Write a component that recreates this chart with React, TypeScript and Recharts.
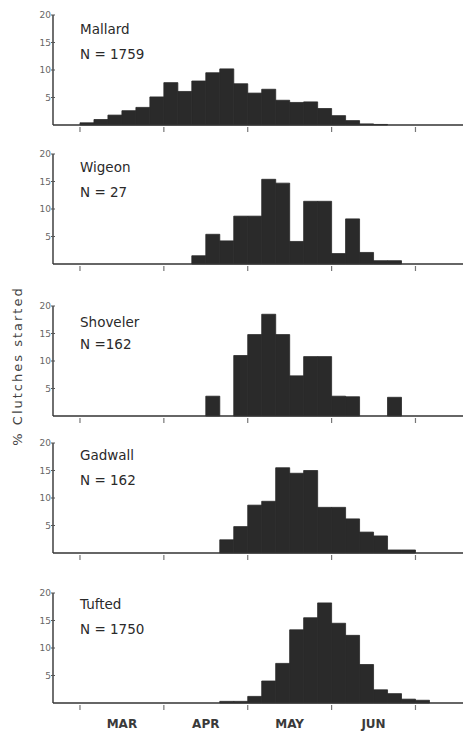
import React from 'react';
import { BarChart, Bar, XAxis, YAxis } from 'recharts';

// 5-day periods (pentads) starting 1 March
const PENTADS = [
  '1 Mar', '6 Mar', '11 Mar', '16 Mar', '21 Mar', '26 Mar',
  '1 Apr', '6 Apr', '11 Apr', '16 Apr', '21 Apr', '26 Apr',
  '1 May', '6 May', '11 May', '16 May', '21 May', '26 May',
  '1 Jun', '6 Jun', '11 Jun', '16 Jun', '21 Jun', '26 Jun',
  '1 Jul', '6 Jul',
];

const SPECIES = ['Mallard', 'Wigeon', 'Shoveler', 'Gadwall', 'Tufted'];
const SAMPLE_SIZES = ['N = 1759', 'N = 27', 'N =162', 'N = 162', 'N = 1750'];

const MALLARD = [0.4, 1.0, 1.8, 2.6, 3.2, 5.1, 7.7, 6.1, 8.0, 9.5, 10.2, 7.5, 5.8, 6.5, 4.5, 4.1, 4.2, 3.0, 1.7, 0.8, 0.2, 0.1, 0, 0, 0, 0];
const WIGEON = [0, 0, 0, 0, 0, 0, 0, 0, 1.5, 5.4, 4.2, 8.7, 8.7, 15.4, 14.7, 4.1, 11.4, 11.4, 1.9, 8.2, 2.1, 0.6, 0.6, 0, 0, 0];
const SHOVELER = [0, 0, 0, 0, 0, 0, 0, 0, 0, 3.6, 0, 11.0, 14.8, 18.5, 14.8, 7.3, 10.8, 10.8, 3.6, 3.5, 0, 0, 3.4, 0, 0, 0];
const GADWALL = [0, 0, 0, 0, 0, 0, 0, 0, 0, 0, 2.4, 4.8, 8.7, 9.4, 15.5, 14.5, 15.0, 8.3, 8.3, 6.2, 3.8, 3.1, 0.55, 0.55, 0, 0];
const TUFTED = [0, 0, 0, 0, 0, 0, 0, 0, 0, 0, 0.3, 0.3, 1.2, 4.0, 7.2, 13.3, 15.5, 18.2, 14.5, 12.3, 7.0, 2.4, 1.7, 0.7, 0.5, 0];

const SERIES = [MALLARD, WIGEON, SHOVELER, GADWALL, TUFTED];

const MONTH_BOUNDARIES = [0, 6, 12, 18, 24];
const MONTH_LABEL_POS = [3, 9, 15, 21];
const MONTH_LABELS = ['MAR', 'APR', 'MAY', 'JUN'];
const Y_TICKS = [5, 10, 15, 20];

const PANEL_TOPS = [5, 144, 296, 433, 583];
const TITLE_OFFSETS = [[19, 44], [18, 43], [21, 43], [17, 42], [16, 41]];

const FONT = '"DejaVu Sans", sans-serif';
const BAR_COLOR = '#2a2a2a';

const YTick = (props: any) => {
  const { x, y, payload } = props;
  return (
    <g>
      <line x1={x - 2} x2={x + 2} y1={y} y2={y} stroke="#555" strokeWidth={1} />
      <text x={x - 2} y={y + 3} textAnchor="end" fontSize={9} fill="#666" fontFamily={FONT}>
        {payload.value}
      </text>
    </g>
  );
};

const makeXTick = (showLabels: boolean) => (props: any) => {
  const { x, y, payload } = props;
  const v = payload.value;
  if (MONTH_BOUNDARIES.includes(v)) {
    return <line x1={x} x2={x} y1={y + 2} y2={y + 7} stroke="#777" strokeWidth={1.2} />;
  }
  if (showLabels) {
    const idx = MONTH_LABEL_POS.indexOf(v);
    return (
      <text x={x} y={y + 25} textAnchor="middle" fontSize={12} fontWeight="bold" fill="#3a3a3a" fontFamily={FONT}>
        {MONTH_LABELS[idx]}
      </text>
    );
  }
  return <g />;
};

const Panel = ({ values, last }: { values: number[]; last: boolean }) => {
  const data = PENTADS.map((p, i) => ({ pentad: p, x: i + 0.5, v: values[i] }));
  const xAxisHeight = last ? 30 : 20;
  return (
    <BarChart
      width={463}
      height={110 + 10 + xAxisHeight}
      data={data}
      margin={{ top: 10, right: 0, bottom: 0, left: 23 }}
      barCategoryGap={0}
      barGap={0}
    >
      <XAxis
        dataKey="x"
        type="number"
        scale="linear"
        domain={[-1.93, 27.4]}
        allowDataOverflow
        ticks={[...MONTH_BOUNDARIES, ...MONTH_LABEL_POS].sort((a, b) => a - b)}
        interval={0}
        tick={makeXTick(last)}
        tickLine={false}
        tickSize={0}
        tickMargin={0}
        height={xAxisHeight}
        axisLine={{ stroke: '#333', strokeWidth: 1.4 }}
      />
      <YAxis
        type="number"
        domain={[0, 20]}
        ticks={Y_TICKS}
        interval={0}
        width={30}
        tick={<YTick />}
        tickLine={false}
        tickSize={0}
        tickMargin={0}
        axisLine={{ stroke: '#333', strokeWidth: 1.4 }}
      />
      <Bar dataKey="v" fill={BAR_COLOR} stroke={BAR_COLOR} strokeWidth={0.8} isAnimationActive={false} />
    </BarChart>
  );
};

export default function App() {
  return (
    <div style={{ position: 'absolute', left: 0, top: 0, width: 463, height: 734, background: '#fff' }}>
      {SERIES.map((vals, i) => (
        <div key={SPECIES[i]} style={{ position: 'absolute', left: 0, top: PANEL_TOPS[i] }}>
          <Panel values={vals} last={i === SERIES.length - 1} />
        </div>
      ))}
      <svg width={463} height={734} style={{ position: 'absolute', left: 0, top: 0, pointerEvents: 'none' }}>
        {SPECIES.map((name, i) => {
          const top = PANEL_TOPS[i] + 10;
          return (
            <g key={name}>
              <text x={80} y={top + TITLE_OFFSETS[i][0]} fontSize={13.5} fill="#2a2a2a" fontFamily={FONT}>
                {name}
              </text>
              <text x={80} y={top + TITLE_OFFSETS[i][1]} fontSize={13.5} fill="#2a2a2a" fontFamily={FONT}>
                {SAMPLE_SIZES[i]}
              </text>
            </g>
          );
        })}
        <text
          transform="translate(22,366) rotate(-90)"
          textAnchor="middle"
          fontSize={13}
          letterSpacing={2}
          fill="#444"
          fontFamily={FONT}
        >
          % Clutches  started
        </text>
      </svg>
    </div>
  );
}
